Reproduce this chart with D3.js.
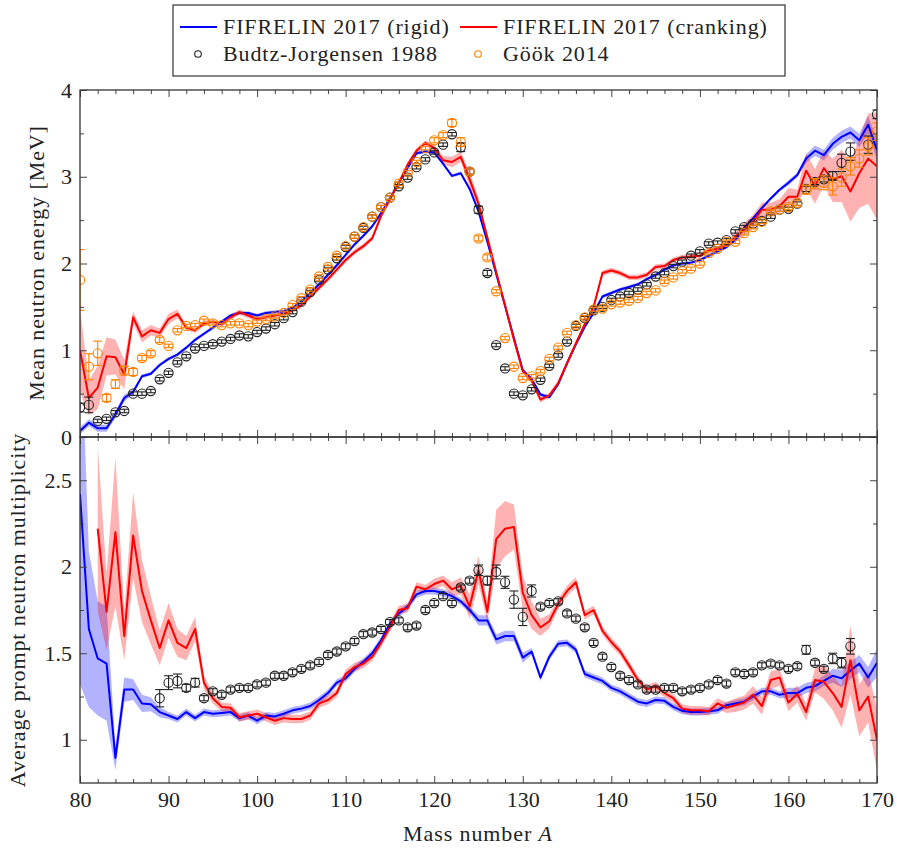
<!DOCTYPE html>
<html lang="en">
<head>
<meta charset="UTF-8">
<title>FIFRELIN 2017 - neutron energy and multiplicity</title>
<script src="https://d3js.org/d3.v7.min.js"></script>
<style>
  body { margin: 0; background: #fff; }
  svg { font-family: "Liberation Serif", "DejaVu Serif", serif; }
  text { fill: #222; }
  .frame { fill: none; stroke: #333; stroke-width: 1.3px; }
  .wide { letter-spacing: 0.9px; }
</style>
</head>
<body>
<svg width="897" height="848"></svg>
<script>
// Mass numbers 80 .. 170
const mass = d3.range(80, 171);

// ---- top panel: mean neutron energy [MeV] ----
const rigidE = [
  0.07, 0.165, 0.10, 0.10, 0.26, 0.45, 0.52, 0.70, 0.73, 0.83,
  0.90, 0.95, 1.03, 1.12, 1.19, 1.26, 1.33, 1.40, 1.43, 1.43,
  1.40, 1.43, 1.44, 1.45, 1.49, 1.56, 1.66, 1.76, 1.87, 1.98,
  2.10, 2.22, 2.32, 2.43, 2.58, 2.75, 2.93, 3.10, 3.27, 3.29,
  3.28, 3.15, 3.01, 3.04, 2.86, 2.60, 2.25, 1.88, 1.51, 1.14,
  0.77, 0.67, 0.49, 0.46, 0.61, 0.85, 1.07, 1.27, 1.43, 1.62,
  1.66, 1.70, 1.73, 1.76, 1.82, 1.87, 1.93, 1.98, 2.00, 2.01,
  2.04, 2.09, 2.14, 2.19, 2.27, 2.41, 2.52, 2.64, 2.75, 2.85,
  2.93, 3.02, 3.21, 3.30, 3.25, 3.38, 3.46, 3.51, 3.42, 3.60,
  3.31
];
const rigidErrE = [
  0.04, 0.04, 0.04, 0.04, 0.04, 0.04, 0.03, 0.02, 0.02, 0.02,
  0.02, 0.02, 0.02, 0.02, 0.02, 0.02, 0.02, 0.02, 0.02, 0.02,
  0.02, 0.02, 0.02, 0.02, 0.02, 0.02, 0.02, 0.02, 0.02, 0.02,
  0.02, 0.02, 0.02, 0.02, 0.02, 0.02, 0.02, 0.02, 0.02, 0.02,
  0.02, 0.02, 0.02, 0.02, 0.02, 0.02, 0.02, 0.02, 0.02, 0.02,
  0.02, 0.02, 0.02, 0.02, 0.02, 0.02, 0.02, 0.02, 0.02, 0.02,
  0.02, 0.02, 0.02, 0.02, 0.02, 0.02, 0.02, 0.02, 0.02, 0.02,
  0.02, 0.02, 0.02, 0.02, 0.02, 0.02, 0.02, 0.02, 0.02, 0.02,
  0.03, 0.03, 0.05, 0.06, 0.06, 0.07, 0.07, 0.07, 0.08, 0.10,
  0.12
];
const crankE = [
  1.00, 0.45, 0.57, 0.93, 0.92, 0.72, 1.38, 1.16, 1.23, 1.20,
  1.36, 1.42, 1.26, 1.23, 1.31, 1.33, 1.30, 1.38, 1.44, 1.40,
  1.36, 1.38, 1.40, 1.42, 1.46, 1.52, 1.62, 1.72, 1.82, 1.93,
  2.04, 2.13, 2.20, 2.29, 2.55, 2.74, 2.93, 3.14, 3.30, 3.39,
  3.33, 3.19, 3.17, 3.23, 2.97, 2.69, 2.30, 1.90, 1.52, 1.12,
  0.76, 0.65, 0.43, 0.48, 0.62, 0.85, 1.08, 1.30, 1.50, 1.89,
  1.92, 1.89, 1.84, 1.84, 1.87, 1.96, 1.97, 2.04, 2.07, 2.08,
  2.09, 2.15, 2.17, 2.21, 2.31, 2.39, 2.48, 2.62, 2.62, 2.66,
  2.77, 2.77, 3.07, 2.89, 3.10, 2.96, 3.01, 2.83, 3.04, 3.21,
  3.12
];
const crankErrE = [
  0.48, 0.20, 0.25, 0.22, 0.20, 0.17, 0.07, 0.07, 0.06, 0.05,
  0.06, 0.05, 0.03, 0.03, 0.03, 0.03, 0.03, 0.03, 0.03, 0.03,
  0.03, 0.03, 0.03, 0.03, 0.03, 0.03, 0.03, 0.03, 0.03, 0.03,
  0.03, 0.03, 0.03, 0.03, 0.03, 0.03, 0.03, 0.03, 0.03, 0.03,
  0.04, 0.05, 0.06, 0.06, 0.08, 0.07, 0.05, 0.03, 0.03, 0.03,
  0.03, 0.03, 0.03, 0.03, 0.03, 0.03, 0.03, 0.03, 0.03, 0.03,
  0.03, 0.03, 0.03, 0.03, 0.03, 0.03, 0.03, 0.03, 0.03, 0.03,
  0.03, 0.03, 0.03, 0.04, 0.06, 0.08, 0.08, 0.08, 0.08, 0.08,
  0.10, 0.08, 0.20, 0.20, 0.20, 0.25, 0.30, 0.35, 0.40, 0.52,
  0.62
];
const budtzE = [
  0.34, 0.37, 0.185, 0.21, 0.285, 0.30, 0.50, 0.50, 0.53, 0.665,
  0.74, 0.86, 0.93, 1.02, 1.05, 1.07, 1.10, 1.13, 1.17, 1.16,
  1.21, 1.25, 1.30, 1.37, 1.44, 1.56, 1.67, 1.81, 1.93, 2.06,
  2.19, 2.31, 2.41, 2.54, 2.65, 2.76, 2.89, 2.99, 3.11, 3.20,
  3.28, 3.37, 3.49, 3.34, 3.06, 2.62, 1.89, 1.06, 0.79, 0.50,
  0.48, 0.55, 0.66, 0.82, 0.94, 1.10, 1.28, 1.37, 1.46, 1.50,
  1.58, 1.62, 1.66, 1.70, 1.76, 1.85, 1.89, 1.97, 2.02, 2.09,
  2.14, 2.23, 2.24, 2.27, 2.37, 2.42, 2.46, 2.49, 2.54, 2.62,
  2.63, 2.69, 2.86, 2.94, 2.97, 3.01, 3.16, 3.29, null, 3.37,
  3.72
];
const budtzErrE = [
  0.05, 0.09, 0.02, 0.02, 0.02, 0.02, 0.02, 0.02, 0.02, 0.02,
  0.02, 0.02, 0.02, 0.02, 0.02, 0.02, 0.02, 0.02, 0.02, 0.02,
  0.02, 0.02, 0.02, 0.02, 0.02, 0.02, 0.02, 0.02, 0.02, 0.02,
  0.02, 0.02, 0.02, 0.02, 0.02, 0.02, 0.02, 0.02, 0.02, 0.02,
  0.02, 0.02, 0.02, 0.05, 0.03, 0.04, 0.03, 0.02, 0.02, 0.02,
  0.02, 0.02, 0.02, 0.02, 0.02, 0.02, 0.02, 0.02, 0.02, 0.02,
  0.02, 0.02, 0.02, 0.02, 0.02, 0.02, 0.02, 0.02, 0.02, 0.02,
  0.02, 0.02, 0.02, 0.02, 0.02, 0.02, 0.02, 0.02, 0.02, 0.02,
  0.02, 0.02, 0.03, 0.03, 0.03, 0.05, 0.10, 0.10, null, 0.10,
  0.05
];
const gookE = [
  1.81, 0.81, 0.965, 0.45, 0.61, 0.765, 0.75, 0.91, 0.965, 1.12,
  1.05, 1.23, 1.28, 1.29, 1.34, 1.31, 1.29, 1.31, 1.31, 1.29,
  1.33, 1.36, 1.39, 1.43, 1.52, 1.60, 1.70, 1.85, 1.96, 2.09,
  2.20, 2.31, 2.42, 2.54, 2.65, 2.76, 2.92, 3.05, 3.17, 3.33,
  3.42, 3.48, 3.62, 3.40, 3.06, 2.29, 2.07, 1.68, 1.14, 0.81,
  0.68, 0.70, 0.76, 0.90, 1.03, 1.20, 1.29, 1.38, 1.47, 1.48,
  1.53, 1.55, 1.57, 1.60, 1.66, 1.69, 1.79, 1.84, 1.91, 1.94,
  2.00, 2.12, 2.17, 2.25, 2.25, 2.35, 2.42, 2.48, 2.60, 2.62,
  2.65, 2.70, 2.85, 2.92, 2.93, 2.89, 2.99, 3.12, 3.21, 3.35,
  3.52
];
const gookErrE = [
  0.35, 0.15, 0.14, 0.04, 0.05, 0.05, 0.04, 0.03, 0.03, 0.03,
  0.02, 0.02, 0.02, 0.02, 0.02, 0.02, 0.02, 0.02, 0.02, 0.02,
  0.02, 0.02, 0.02, 0.02, 0.02, 0.02, 0.02, 0.02, 0.02, 0.02,
  0.02, 0.02, 0.02, 0.02, 0.02, 0.02, 0.02, 0.02, 0.02, 0.02,
  0.03, 0.03, 0.04, 0.05, 0.03, 0.03, 0.03, 0.02, 0.02, 0.02,
  0.02, 0.02, 0.02, 0.02, 0.02, 0.02, 0.02, 0.02, 0.02, 0.02,
  0.02, 0.02, 0.02, 0.02, 0.02, 0.02, 0.02, 0.02, 0.02, 0.02,
  0.02, 0.02, 0.02, 0.02, 0.02, 0.02, 0.02, 0.02, 0.02, 0.02,
  0.03, 0.03, 0.05, 0.06, 0.08, 0.10, 0.10, 0.10, 0.10, 0.10,
  0.10
];

// ---- bottom panel: average prompt neutron multiplicity ----
const rigidNu = [
  2.42, 1.64, 1.47, 1.44, 0.895, 1.29, 1.29, 1.21, 1.205, 1.16,
  1.14, 1.12, 1.16, 1.125, 1.16, 1.15, 1.155, 1.16, 1.125, 1.14,
  1.11, 1.14, 1.135, 1.15, 1.17, 1.18, 1.195, 1.23, 1.27, 1.33,
  1.355, 1.41, 1.45, 1.50, 1.575, 1.67, 1.73, 1.77, 1.84, 1.86,
  1.86, 1.85, 1.83, 1.80, 1.75, 1.69, 1.69, 1.58, 1.60, 1.60,
  1.475, 1.51, 1.36, 1.48, 1.555, 1.56, 1.52, 1.38, 1.36, 1.34,
  1.30, 1.28, 1.25, 1.22, 1.21, 1.23, 1.225, 1.19, 1.167, 1.16,
  1.16, 1.165, 1.17, 1.20, 1.21, 1.22, 1.25, 1.28, 1.28, 1.26,
  1.27, 1.27, 1.30, 1.31, 1.34, 1.37, 1.355, 1.40, 1.44, 1.36,
  1.445
];
const rigidErrNu = [
  1.10, 0.45, 0.33, 0.33, 0.07, 0.07, 0.06, 0.05, 0.04, 0.03,
  0.02, 0.02, 0.02, 0.02, 0.02, 0.02, 0.02, 0.02, 0.02, 0.02,
  0.02, 0.02, 0.02, 0.02, 0.02, 0.02, 0.02, 0.02, 0.02, 0.02,
  0.02, 0.02, 0.02, 0.02, 0.02, 0.02, 0.02, 0.02, 0.02, 0.02,
  0.02, 0.02, 0.02, 0.02, 0.02, 0.03, 0.03, 0.03, 0.03, 0.03,
  0.03, 0.02, 0.02, 0.02, 0.02, 0.02, 0.02, 0.02, 0.02, 0.02,
  0.02, 0.02, 0.02, 0.02, 0.02, 0.02, 0.02, 0.02, 0.02, 0.02,
  0.02, 0.02, 0.02, 0.02, 0.02, 0.02, 0.02, 0.02, 0.02, 0.02,
  0.03, 0.03, 0.03, 0.03, 0.03, 0.04, 0.05, 0.05, 0.05, 0.06,
  0.08
];
const crankNu = [
  null, null, 2.22, 1.74, 2.20, 1.60, 2.18, 1.86, 1.69, 1.53,
  1.69, 1.56, 1.53, 1.64, 1.33, 1.24, 1.19, 1.185, 1.13, 1.14,
  1.15, 1.13, 1.11, 1.125, 1.12, 1.12, 1.14, 1.21, 1.23, 1.27,
  1.38, 1.42, 1.44, 1.48, 1.56, 1.65, 1.75, 1.76, 1.885, 1.87,
  1.90, 1.92, 1.87, 1.89, 1.77, 1.98, 1.74, 2.16, 2.22, 2.23,
  1.85, 1.72, 1.65, 1.685, 1.785, 1.86, 1.91, 1.72, 1.75, 1.63,
  1.565, 1.51, 1.43, 1.345, 1.29, 1.31, 1.27, 1.24, 1.18, 1.17,
  1.17, 1.165, 1.21, 1.185, 1.20, 1.215, 1.26, 1.195, 1.345, 1.36,
  1.215, 1.265, 1.16, 1.345, 1.335, 1.27, 1.19, 1.46, 1.17, 1.25,
  1.00
];
const crankErrNu = [
  null, null, 0.48, 0.22, 0.43, 0.14, 0.25, 0.18, 0.14, 0.10,
  0.10, 0.08, 0.07, 0.07, 0.04, 0.03, 0.025, 0.025, 0.025, 0.025,
  0.025, 0.025, 0.025, 0.025, 0.025, 0.025, 0.025, 0.025, 0.025, 0.025,
  0.025, 0.025, 0.025, 0.025, 0.025, 0.025, 0.025, 0.025, 0.025, 0.025,
  0.03, 0.03, 0.04, 0.05, 0.07, 0.08, 0.06, 0.17, 0.16, 0.13,
  0.10, 0.08, 0.05, 0.04, 0.03, 0.03, 0.03, 0.025, 0.025, 0.025,
  0.025, 0.025, 0.025, 0.025, 0.025, 0.025, 0.025, 0.025, 0.025, 0.025,
  0.025, 0.025, 0.03, 0.03, 0.04, 0.04, 0.05, 0.05, 0.05, 0.05,
  0.05, 0.05, 0.05, 0.07, 0.10, 0.10, 0.12, 0.20, 0.15, 0.15,
  0.18
];
const budtzNu = [
  null, null, null, null, null, null, null, null, null, 1.24,
  1.33, 1.34, 1.30, 1.33, 1.24, 1.28, 1.26, 1.29, 1.30, 1.30,
  1.32, 1.33, 1.37, 1.37, 1.39, 1.41, 1.43, 1.45, 1.49, 1.51,
  1.54, 1.57, 1.61, 1.62, 1.64, 1.68, 1.69, 1.65, 1.66, 1.75,
  1.79, 1.83, 1.79, 1.88, 1.92, 1.98, 1.92, 1.97, 1.91, 1.81,
  1.71, 1.86, 1.77, 1.79, 1.80, 1.73, 1.70, 1.65, 1.56, 1.48,
  1.42, 1.37, 1.345, 1.32, 1.29, 1.29, 1.30, 1.30, 1.28, 1.29,
  1.30, 1.32, 1.345, 1.325, 1.39, 1.38, 1.39, 1.43, 1.44, 1.43,
  1.41, 1.425, 1.52, 1.445, 1.41, 1.47, 1.445, 1.54, null, null,
  null
];
const budtzErrNu = [
  null, null, null, null, null, null, null, null, null, 0.05,
  0.04, 0.04, 0.02, 0.025, 0.015, 0.015, 0.015, 0.015, 0.015, 0.015,
  0.015, 0.015, 0.015, 0.015, 0.015, 0.015, 0.015, 0.015, 0.015, 0.015,
  0.015, 0.015, 0.015, 0.015, 0.015, 0.015, 0.015, 0.015, 0.015, 0.015,
  0.015, 0.015, 0.015, 0.015, 0.015, 0.03, 0.025, 0.04, 0.035, 0.05,
  0.05, 0.035, 0.015, 0.015, 0.015, 0.015, 0.015, 0.015, 0.015, 0.015,
  0.015, 0.015, 0.015, 0.015, 0.015, 0.015, 0.015, 0.015, 0.015, 0.015,
  0.015, 0.015, 0.015, 0.015, 0.015, 0.015, 0.015, 0.015, 0.015, 0.015,
  0.015, 0.015, 0.025, 0.015, 0.015, 0.03, 0.03, 0.045, null, null,
  null
];

const blue = "#0000ff", red = "#ff0000", orange = "#ff8000", black = "#222";

const svg = d3.select("svg");
const left = 80, right = 877;
const x = d3.scaleLinear().domain([80, 170]).range([left, right]);
const yE = d3.scaleLinear().domain([0, 4]).range([437, 90]);
const yN = d3.scaleLinear().domain([0.75, 2.75]).range([783, 437]);

const rows = (vals, errs) => mass.map((a, i) => ({ a, v: vals[i], e: errs[i] }));

function drawPanel(id, y, top, bottom, models, data) {
  svg.append("clipPath").attr("id", id)
    .append("rect").attr("x", left).attr("y", top)
    .attr("width", right - left).attr("height", bottom - top);
  const g = svg.append("g").attr("clip-path", `url(#${id})`);

  // uncertainty bands
  models.forEach(m => {
    const area = d3.area()
      .defined(d => d.v != null)
      .x(d => x(d.a))
      .y0(d => y(d.v - d.e))
      .y1(d => y(d.v + d.e));
    g.append("path").datum(m.rows).attr("d", area)
      .attr("fill", m.color).attr("fill-opacity", 0.3);
  });
  // model lines
  models.forEach(m => {
    const line = d3.line().defined(d => d.v != null).x(d => x(d.a)).y(d => y(d.v));
    g.append("path").datum(m.rows).attr("d", line)
      .attr("fill", "none").attr("stroke", m.color)
      .attr("stroke-width", 2).attr("stroke-linejoin", "round");
  });
  // experimental points with error bars
  data.forEach(s => {
    const pts = s.rows.filter(d => d.v != null);
    const pg = g.append("g").attr("stroke", s.color).attr("fill", "none").attr("stroke-width", 1.1);
    pts.forEach(d => {
      const cx = x(d.a), y0 = y(d.v - d.e), y1 = y(d.v + d.e);
      pg.append("line").attr("x1", cx).attr("x2", cx).attr("y1", y0).attr("y2", y1);
      pg.append("line").attr("x1", cx - 4.5).attr("x2", cx + 4.5).attr("y1", y0).attr("y2", y0);
      pg.append("line").attr("x1", cx - 4.5).attr("x2", cx + 4.5).attr("y1", y1).attr("y2", y1);
      pg.append("circle").attr("cx", cx).attr("cy", y(d.v)).attr("r", 4.6);
    });
  });
}

drawPanel("clipTop", yE, 90, 437,
  [{ rows: rows(rigidE, rigidErrE), color: blue }, { rows: rows(crankE, crankErrE), color: red }],
  [{ rows: rows(budtzE, budtzErrE), color: black }, { rows: rows(gookE, gookErrE), color: orange }]);

drawPanel("clipBot", yN, 437, 783,
  [{ rows: rows(rigidNu, rigidErrNu), color: blue }, { rows: rows(crankNu, crankErrNu), color: red }],
  [{ rows: rows(budtzNu, budtzErrNu), color: black }]);

// ---- ticks (inward, all four sides) ----
const xMajor = d3.range(80, 171, 10);
const xMinor = d3.range(82, 170, 2).filter(v => v % 10 !== 0);

function styleAxis(sel) {
  sel.select(".domain").remove();
  sel.selectAll(".tick line").attr("stroke", "#444").attr("stroke-width", 1);
  sel.selectAll("text").attr("font-family", "Liberation Serif, serif").attr("font-size", 22).attr("fill", "#222");
}

function ticks(y, top, bottom, yMajor, yMinor, yFmt, xLabels) {
  const axes = [
    [d3.axisBottom(x).tickValues(xMajor).tickSize(-7).tickPadding(8)
       .tickFormat(xLabels ? d3.format("d") : () => ""), `translate(0,${bottom})`],
    [d3.axisBottom(x).tickValues(xMinor).tickSize(-4).tickFormat(() => ""), `translate(0,${bottom})`],
    [d3.axisTop(x).tickValues(xMajor).tickSize(-7).tickFormat(() => ""), `translate(0,${top})`],
    [d3.axisTop(x).tickValues(xMinor).tickSize(-4).tickFormat(() => ""), `translate(0,${top})`],
    [d3.axisLeft(y).tickValues(yMajor).tickSize(-7).tickPadding(8).tickFormat(yFmt), `translate(${left},0)`],
    [d3.axisLeft(y).tickValues(yMinor).tickSize(-4).tickFormat(() => ""), `translate(${left},0)`],
    [d3.axisRight(y).tickValues(yMajor).tickSize(-7).tickFormat(() => ""), `translate(${right},0)`],
    [d3.axisRight(y).tickValues(yMinor).tickSize(-4).tickFormat(() => ""), `translate(${right},0)`]
  ];
  axes.forEach(([ax, tr]) => svg.append("g").attr("transform", tr).call(ax).call(styleAxis));
  svg.append("rect").attr("class", "frame")
    .attr("x", left).attr("y", top).attr("width", right - left).attr("height", bottom - top);
}

ticks(yE, 90, 437, [0, 1, 2, 3, 4], [0.5, 1.5, 2.5, 3.5], d3.format("d"), false);
ticks(yN, 437, 783, [1, 1.5, 2, 2.5], [1.25, 1.75, 2.25], d3.format(""), true);

// ---- axis titles ----
svg.append("text").attr("class", "wide").attr("transform", "translate(36,263) rotate(-90)")
  .attr("text-anchor", "middle").attr("dy", "0.35em").attr("font-size", 22)
  .text("Mean neutron energy [MeV]");
svg.append("text").attr("class", "wide").attr("transform", "translate(17,610) rotate(-90)")
  .attr("text-anchor", "middle").attr("dy", "0.35em").attr("font-size", 22)
  .text("Average prompt neutron multiplicity");
const xt = svg.append("text").attr("class", "wide").attr("x", 478).attr("y", 841)
  .attr("text-anchor", "middle").attr("font-size", 22);
xt.append("tspan").text("Mass number ");
xt.append("tspan").attr("font-style", "italic").text("A");

// ---- legend ----
const legendItems = [
  { label: "FIFRELIN 2017 (rigid)", color: blue, kind: "line", lx: 180, row: 0 },
  { label: "FIFRELIN 2017 (cranking)", color: red, kind: "line", lx: 460, row: 0 },
  { label: "Budtz-Jorgensen 1988", color: black, kind: "mark", lx: 180, row: 1 },
  { label: "Göök 2014", color: orange, kind: "mark", lx: 460, row: 1 }
];
const lg = svg.append("g");
lg.append("rect").attr("x", 173).attr("y", 5).attr("width", 612).attr("height", 71)
  .attr("fill", "#fff").attr("stroke", "#333").attr("stroke-width", 1.2);
legendItems.forEach(it => {
  const cy = 27 + it.row * 27;
  if (it.kind === "line") {
    lg.append("line").attr("x1", it.lx).attr("x2", it.lx + 37).attr("y1", cy).attr("y2", cy)
      .attr("stroke", it.color).attr("stroke-width", 2);
  } else {
    lg.append("circle").attr("cx", it.lx + 18).attr("cy", cy).attr("r", 3.3)
      .attr("fill", "none").attr("stroke", it.color).attr("stroke-width", 1.1);
  }
  lg.append("text").attr("class", "wide").attr("x", it.lx + 43).attr("y", cy + 7)
    .attr("font-size", 22).text(it.label);
});
</script>
</body>
</html>
